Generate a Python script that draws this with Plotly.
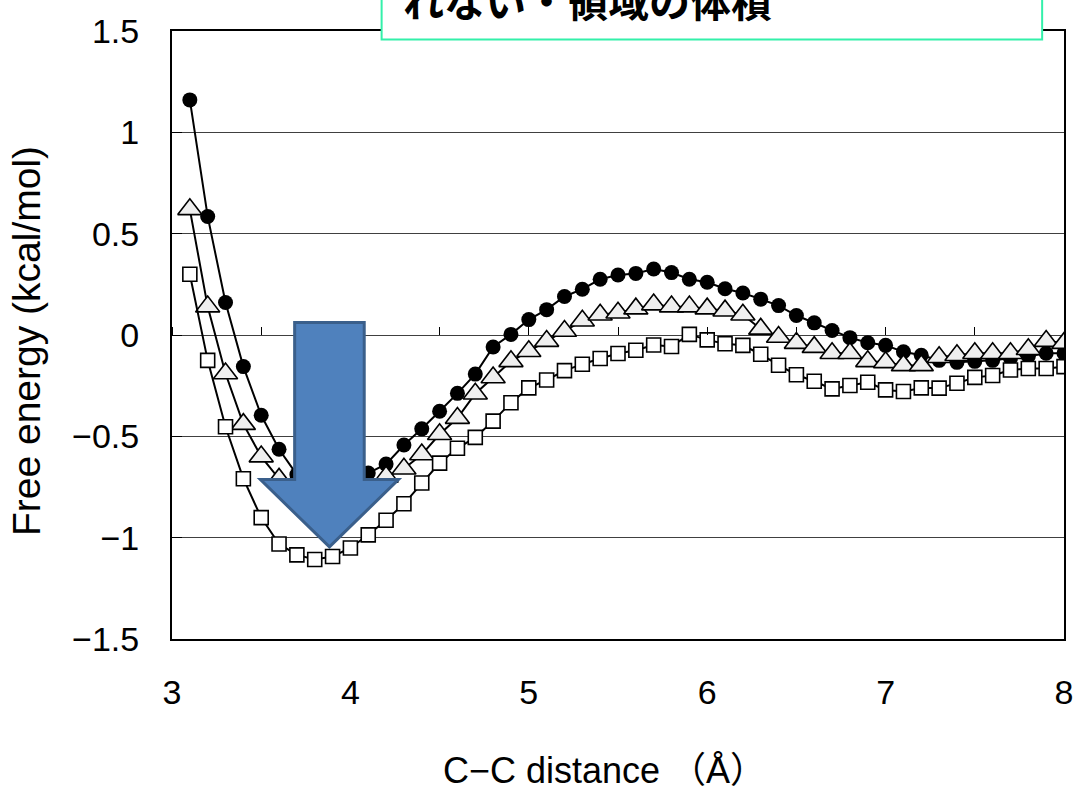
import plotly.graph_objects as go

# C-C distance (Å)
distance = [3.1, 3.2, 3.3, 3.4, 3.5, 3.6, 3.7, 3.8, 3.9,
            4.0, 4.1, 4.2, 4.3, 4.4, 4.5, 4.6, 4.7, 4.8, 4.9,
            5.0, 5.1, 5.2, 5.3, 5.4, 5.5, 5.6, 5.7, 5.8, 5.9,
            6.0, 6.1, 6.2, 6.3, 6.4, 6.5, 6.6, 6.7, 6.8, 6.9,
            7.0, 7.1, 7.2, 7.3, 7.4, 7.5, 7.6, 7.7, 7.8, 7.9,
            8.0]

# free energy profiles (kcal/mol)
fe_circle = [1.16, 0.585, 0.16, -0.156, -0.396, -0.564, -0.689, -0.73, -0.745,
             -0.725, -0.681, -0.637, -0.543, -0.463, -0.376, -0.288, -0.193, -0.059, 0.003,
             0.076, 0.125, 0.19, 0.226, 0.275, 0.296, 0.304, 0.326, 0.308, 0.275,
             0.26, 0.228, 0.207, 0.177, 0.145, 0.096, 0.06, 0.022, -0.013, -0.038,
             -0.051, -0.083, -0.10, -0.125, -0.135, -0.13, -0.125, -0.115, -0.105, -0.09,
             -0.09]

fe_triangle = [0.62, 0.14, -0.19, -0.44, -0.60, -0.71, -0.78, -0.82, -0.83,
               -0.80, -0.76, -0.70, -0.66, -0.59, -0.49, -0.41, -0.29, -0.21, -0.13,
               -0.08, -0.03, 0.02, 0.07, 0.10, 0.11, 0.13, 0.15, 0.14, 0.14,
               0.13, 0.12, 0.10, 0.03, -0.01, -0.04, -0.06, -0.09, -0.09, -0.13,
               -0.135, -0.15, -0.15, -0.11, -0.10, -0.09, -0.09, -0.09, -0.07, -0.03,
               -0.04]

fe_square = [0.30, -0.125, -0.453, -0.709, -0.901, -1.031, -1.085, -1.108, -1.093,
             -1.051, -0.986, -0.914, -0.833, -0.730, -0.632, -0.559, -0.505, -0.425, -0.334,
             -0.261, -0.222, -0.176, -0.144, -0.116, -0.091, -0.075, -0.049, -0.057, 0.003,
             -0.024, -0.043, -0.051, -0.095, -0.149, -0.196, -0.228, -0.266, -0.249, -0.233,
             -0.271, -0.279, -0.261, -0.262, -0.238, -0.209, -0.2, -0.173, -0.165, -0.165,
             -0.156]

y_ticks = [-1.5, -1, -0.5, 0, 0.5, 1, 1.5]
x_ticks = [3, 4, 5, 6, 7, 8]

box_text = "れない・領域の体積"
x_title = "C−C distance （Å）"
y_title = "Free energy (kcal/mol)"

TICK_FONT = dict(family="Liberation Sans, Arial, sans-serif", size=34, color="black")
X_TITLE_FONT = dict(family="Liberation Sans, Noto Sans CJK JP, sans-serif", size=36, color="black")
Y_TITLE_FONT = dict(family="Liberation Sans, Noto Sans CJK JP, sans-serif", size=39, color="black")

fig = go.Figure()

fig.add_trace(go.Scatter(
    x=distance, y=fe_circle, mode="lines+markers",
    line=dict(color="black", width=2),
    marker=dict(symbol="circle", size=15, color="black"),
    showlegend=False, hoverinfo="x+y"))

fig.add_trace(go.Scatter(
    x=distance, y=fe_triangle, mode="lines+markers",
    line=dict(color="black", width=2),
    marker=dict(symbol="triangle-up", size=21, color="#efefef",
                line=dict(color="black", width=1.6)),
    showlegend=False, hoverinfo="x+y"))

fig.add_trace(go.Scatter(
    x=distance, y=fe_square, mode="lines+markers",
    line=dict(color="black", width=2),
    marker=dict(symbol="square", size=14, color="white",
                line=dict(color="black", width=1.6)),
    showlegend=False, hoverinfo="x+y"))

# carrier for the tick row along the zero line
fig.add_trace(go.Scatter(x=[], y=[], xaxis="x2", yaxis="y",
                         showlegend=False, hoverinfo="skip"))

fig.update_layout(
    width=1085, height=794,
    margin=dict(l=172, r=15, t=25, b=155),
    paper_bgcolor="white", plot_bgcolor="white",
    xaxis=dict(
        range=[3, 8], tickvals=x_ticks, ticks="", showgrid=False,
        zeroline=False, showline=True, linecolor="black", linewidth=2,
        mirror=True, tickfont=TICK_FONT, ticklabelstandoff=22,
    ),
    xaxis2=dict(
        overlaying="x", anchor="free", position=0.5, side="top",
        range=[3, 8], tick0=3, dtick=0.5, ticks="outside", ticklen=8,
        tickwidth=1, tickcolor="black", showticklabels=False,
        showgrid=False, zeroline=False, showline=False,
    ),
    yaxis=dict(
        range=[-1.5, 1.5], tickvals=y_ticks, showgrid=True,
        gridcolor="#404040", gridwidth=1, zeroline=False,
        showline=True, linecolor="black", linewidth=2, mirror=True,
        ticks="inside", ticklen=10, tickwidth=1, tickcolor="black",
        tickfont=TICK_FONT, ticklabelstandoff=24,
    ),
    shapes=[
        # downward block arrow
        dict(type="path", xref="paper", yref="paper", layer="above",
             path=("M 0.1375 0.5204 L 0.2155 0.5204 L 0.2155 0.2622 "
                   "L 0.2539 0.2622 L 0.1765 0.1515 L 0.0991 0.2622 "
                   "L 0.1375 0.2622 Z"),
             fillcolor="#4f81bd", line=dict(color="#3a5f8b", width=3)),
        # caption box at the top
        dict(type="rect", xref="paper", yref="paper", layer="above",
             x0=0.235, x1=0.9755, y0=0.9862, y1=1.06,
             fillcolor="white", line=dict(color="#33f0aa", width=2)),
    ],
    annotations=[
        dict(text=box_text, xref="paper", yref="paper", x=0.2572, y=1.052,
             xanchor="left", yanchor="middle", showarrow=False,
             font=dict(family="Noto Sans CJK JP", size=41, color="black",
                       weight="bold")),
        dict(text=x_title, xref="paper", yref="paper", x=0.485, y=-0.2166,
             xanchor="center", yanchor="middle", showarrow=False,
             font=X_TITLE_FONT),
        dict(text=y_title, xref="paper", yref="paper", x=-0.1637, y=0.49,
             xanchor="center", yanchor="middle", showarrow=False,
             textangle=-90, font=Y_TITLE_FONT),
    ],
)

fig.write_html("out.html")
